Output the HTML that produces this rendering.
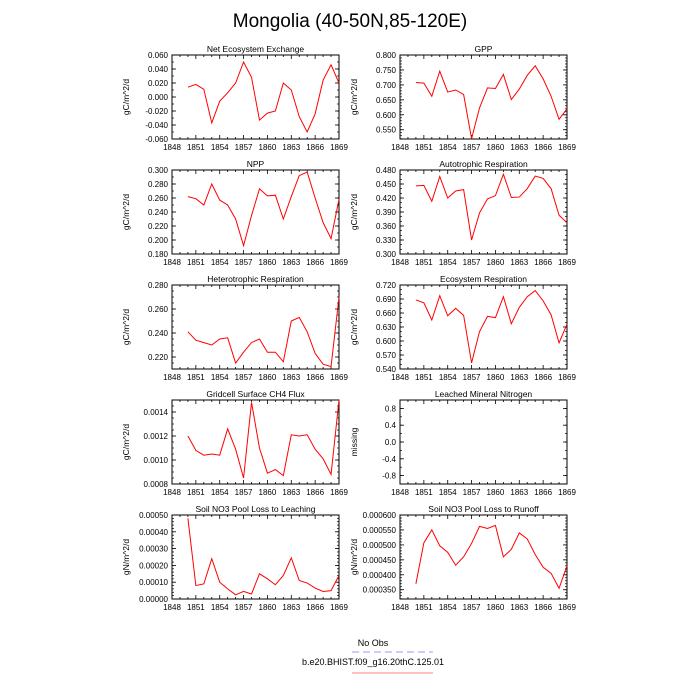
<!DOCTYPE html>
<html><head><meta charset="utf-8"><style>
body{margin:0;background:#fff;}
svg{display:block;font-family:"Liberation Sans",sans-serif;}
</style></head><body>
<svg id="c" width="700" height="700" viewBox="0 0 700 700">
<text x="350" y="27" font-size="19" text-anchor="middle">Mongolia (40-50N,85-120E)</text>
<g>
<text x="373" y="646" font-size="9" text-anchor="middle">No Obs</text>
<line x1="352" y1="652" x2="433" y2="652" stroke="#9999ff" stroke-width="1" stroke-dasharray="7,4"/>
<text x="373" y="665" font-size="9" text-anchor="middle">b.e20.BHIST.f09_g16.20thC.125.01</text>
<line x1="352" y1="673" x2="433" y2="673" stroke="#ff8080" stroke-width="1"/>
</g>
</svg>
<script>
const years=[1850,1851,1852,1853,1854,1855,1856,1857,1858,1859,1860,1861,1862,1863,1864,1865,1866,1867,1868,1869];
const xTicks=[1848,1851,1854,1857,1860,1863,1866,1869];
const neeVals=[.014,.018,.011,-.037,-.006,.006,.020,.050,.028,-.033,-.023,-.020,.020,.010,-.028,-.050,-.024,.024,.046,.020];
const gppVals=[.708,.706,.662,.746,.676,.683,.668,.52,.623,.690,.688,.735,.651,.686,.732,.764,.72,.662,.585,.62];
const nppVals=[.262,.259,.250,.280,.257,.250,.230,.192,.235,.273,.263,.264,.230,.262,.292,.297,.26,.225,.202,.258];
const arVals=[.446,.447,.413,.466,.420,.435,.438,.330,.388,.418,.425,.471,.421,.422,.440,.467,.462,.440,.383,.367];
const hrVals=[.241,.234,.232,.230,.235,.236,.215,.224,.232,.235,.224,.224,.216,.250,.253,.241,.223,.214,.212,.270];
const erVals=[.688,.682,.645,.697,.654,.670,.655,.553,.620,.653,.650,.695,.637,.672,.695,.708,.686,.656,.596,.636];
const ch4Vals=[.00120,.00108,.00104,.00105,.00104,.00126,.00109,.00085,.00148,.00110,.00089,.00092,.00087,.00121,.00120,.00121,.00109,.00101,.00088,.00150];
const leachVals=[];
const no3LeachVals=[.00048,.00008,.00009,.00024,.00010,.00006,.000025,.000045,.00003,.00015,.00012,.000085,.00014,.000245,.00011,.000095,.000065,.000045,.00005,.00014];
const no3RunVals=[.000370,.000507,.00055,.000497,.000475,.000432,.00046,.000505,.000562,.000555,.000565,.00046,.000485,.00054,.00052,.000468,.000425,.000405,.000355,.00043];
const neeTicks=["-0.060","-0.040","-0.020","0.000","0.020","0.040","0.060"];
const gppTicks=["0.550","0.600","0.650","0.700","0.750","0.800"];
const nppTicks=["0.180","0.200","0.220","0.240","0.260","0.280","0.300"];
const arTicks=["0.300","0.330","0.360","0.390","0.420","0.450","0.480"];
const hrTicks=["0.220","0.240","0.260","0.280"];
const erTicks=["0.540","0.570","0.600","0.630","0.660","0.690","0.720"];
const ch4Ticks=["0.0008","0.0010","0.0012","0.0014"];
const leachTicks=["-0.8","-0.4","0.0","0.4","0.8"];
const no3LTicks=["0.00000","0.00010","0.00020","0.00030","0.00040","0.00050"];
const no3RTicks=["0.000350","0.000400","0.000450","0.000500","0.000550","0.000600"];

const panels=[
 {name:"nee",title:"Net Ecosystem Exchange",unit:"gC/m^2/d",col:0,row:0,ymin:-0.06,ymax:0.06,ticks:neeTicks,minor:0.01,vals:neeVals},
 {name:"gpp",title:"GPP",unit:"gC/m^2/d",col:1,row:0,ymin:0.519,ymax:0.8,ticks:gppTicks,minor:0.01,vals:gppVals},
 {name:"npp",title:"NPP",unit:"gC/m^2/d",col:0,row:1,ymin:0.18,ymax:0.30,ticks:nppTicks,minor:0.01,vals:nppVals},
 {name:"autotrophic-respiration",title:"Autotrophic Respiration",unit:"gC/m^2/d",col:1,row:1,ymin:0.30,ymax:0.48,ticks:arTicks,minor:0.01,vals:arVals},
 {name:"heterotrophic-respiration",title:"Heterotrophic Respiration",unit:"gC/m^2/d",col:0,row:2,ymin:0.21,ymax:0.28,ticks:hrTicks,minor:0.005,vals:hrVals},
 {name:"ecosystem-respiration",title:"Ecosystem Respiration",unit:"gC/m^2/d",col:1,row:2,ymin:0.54,ymax:0.72,ticks:erTicks,minor:0.01,vals:erVals},
 {name:"ch4-flux",title:"Gridcell Surface CH4 Flux",unit:"gC/m^2/d",col:0,row:3,ymin:0.0008,ymax:0.0015,ticks:ch4Ticks,minor:0.00005,vals:ch4Vals},
 {name:"leached-mineral-nitrogen",title:"Leached Mineral Nitrogen",unit:"missing",col:1,row:3,ymin:-1,ymax:1,ticks:leachTicks,minor:0.2,vals:leachVals},
 {name:"no3-leaching",title:"Soil NO3 Pool Loss to Leaching",unit:"gN/m^2/d",col:0,row:4,ymin:0,ymax:0.0005,ticks:no3LTicks,minor:0.00002,vals:no3LeachVals},
 {name:"no3-runoff",title:"Soil NO3 Pool Loss to Runoff",unit:"gN/m^2/d",col:1,row:4,ymin:0.000319,ymax:0.0006,ticks:no3RTicks,minor:0.00001,vals:no3RunVals}
];
const svg=document.getElementById('c');
const NS="http://www.w3.org/2000/svg";
function mk(tag,attrs,parent){const e=document.createElementNS(NS,tag);for(const k in attrs)e.setAttribute(k,attrs[k]);parent.appendChild(e);return e;}
const colX=[172,400], rowY=[55,170,285,400,515], W=167, H=84;
panels.forEach(p=>{
 const x0=colX[p.col], y0=rowY[p.row];
 const g=mk('g',{},svg);
 
 
 const xs=v=>x0+(v-1848)/(1869-1848)*W;
 const ys=v=>y0+H-(v-p.ymin)/(p.ymax-p.ymin)*H;
 const t=mk('text',{x:x0+W/2,y:y0-3,'font-size':'8.5','text-anchor':'middle'},g);
 t.textContent=p.title;
 
 
 const ya=mk('text',{x:0,y:0,'font-size':'8.5','text-anchor':'middle',transform:`translate(${x0-43},${y0+H/2}) rotate(-90)`},g);
 ya.textContent=p.unit;
 
 
 // x ticks
 for(let yr=1848;yr<=1869;yr++){
  const x=xs(yr), len=(xTicks.includes(yr))?4:2;
  mk('line',{x1:x,y1:y0+H,x2:x,y2:y0+H-len,stroke:'#000','stroke-width':0.8},g);
  mk('line',{x1:x,y1:y0,x2:x,y2:y0+len,stroke:'#000','stroke-width':0.8},g);
 }
 xTicks.forEach(yr=>{
  const l=mk('text',{x:xs(yr),y:y0+H+11,'font-size':'8','text-anchor':'middle'},g);
  l.textContent=yr;
  
  
 });
 // y minor
 const start=Math.ceil(p.ymin/p.minor-1e-6);
 for(let i=start;i*p.minor<=p.ymax+1e-12;i++){
  const y=ys(i*p.minor);
  mk('line',{x1:x0,y1:y,x2:x0+2,y2:y,stroke:'#000','stroke-width':0.7},g);
  mk('line',{x1:x0+W,y1:y,x2:x0+W-2,y2:y,stroke:'#000','stroke-width':0.7},g);
 }
 p.ticks.forEach(s=>{
  const v=parseFloat(s), y=ys(v);
  mk('line',{x1:x0,y1:y,x2:x0+4,y2:y,stroke:'#000','stroke-width':0.8},g);
  mk('line',{x1:x0+W,y1:y,x2:x0+W-4,y2:y,stroke:'#000','stroke-width':0.8},g);
  const l=mk('text',{x:x0-4,y:y+3,'font-size':'8','text-anchor':'end'},g);
  l.textContent=s;
  
  
 });
 const fr=mk('rect',{x:x0,y:y0,width:W,height:H,fill:'none',stroke:'#000','stroke-width':1},g);
 
 
 if(p.vals.length){
  const d=p.vals.map((v,i)=>(i?'L':'M')+xs(years[i]).toFixed(2)+','+ys(v).toFixed(2)).join(' ');
  const path=mk('path',{d:d,fill:'none',stroke:'#ff0000','stroke-width':1},g);
  
  
 }
});
</script>
</body></html>
